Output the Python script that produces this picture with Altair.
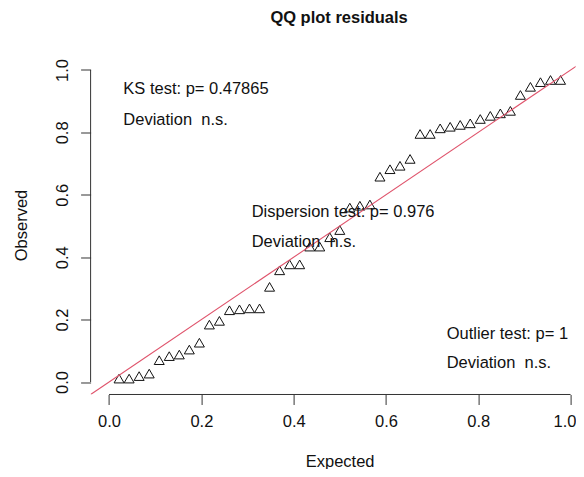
import altair as alt
import pandas as pd

# Expected uniform quantiles (i/(n+1), n = 45) and observed scaled residuals
expected = [0.0217, 0.0435, 0.0652, 0.0870, 0.1087, 0.1304, 0.1522, 0.1739, 0.1957,
            0.2174, 0.2391, 0.2609, 0.2826, 0.3043, 0.3261, 0.3478, 0.3696, 0.3913,
            0.4130, 0.4348, 0.4565, 0.4783, 0.5000, 0.5217, 0.5435, 0.5652, 0.5870,
            0.6087, 0.6304, 0.6522, 0.6739, 0.6957, 0.7174, 0.7391, 0.7609, 0.7826,
            0.8043, 0.8261, 0.8478, 0.8696, 0.8913, 0.9130, 0.9348, 0.9565, 0.9783]
observed = [0.011, 0.011, 0.019, 0.027, 0.070, 0.083, 0.088, 0.104, 0.126,
            0.184, 0.196, 0.230, 0.233, 0.236, 0.236, 0.305, 0.358, 0.377,
            0.377, 0.434, 0.434, 0.464, 0.487, 0.559, 0.565, 0.569, 0.658,
            0.682, 0.693, 0.715, 0.795, 0.795, 0.813, 0.818, 0.824, 0.829,
            0.843, 0.853, 0.861, 0.869, 0.920, 0.946, 0.961, 0.968, 0.968]

tick_values = [0.0, 0.2, 0.4, 0.6, 0.8, 1.0]
ref_line = [-0.04, 1.04]
axis_span = [0.0, 1.0]

NB = "\u00a0"
ann_text = ["KS test: p= 0.47865", "Deviation" + NB + " n.s.",
            "Dispersion test: p= 0.976", "Deviation" + NB + " n.s.",
            "Outlier test: p= 1", "Deviation" + NB + " n.s."]
ann_x = [0.031, 0.031, 0.309, 0.309, 0.7315, 0.7315]
ann_y = [0.938, 0.840, 0.545, 0.449, 0.155, 0.060]

FONT = "Liberation Sans"
FS = 16.5
W, H = 485, 337

pts = pd.DataFrame({"expected": expected, "observed": observed})
line_df = pd.DataFrame({"x": ref_line, "y": ref_line})
span_df = pd.DataFrame({"lo": [axis_span[0]], "hi": [axis_span[1]]})
ann_df = pd.DataFrame({"x": ann_x, "y": ann_y, "t": ann_text})

xs = alt.Scale(domain=[-0.04, 1.0109], nice=False, zero=False)
ys = alt.Scale(domain=[-0.04, 1.04], nice=False, zero=False)

x_axis = alt.Axis(values=tick_values, format=".1f", domain=False, grid=False,
                  tickSize=10, tickColor="#333333", tickWidth=1,
                  labelFont=FONT, labelFontSize=FS, labelColor="#111111",
                  labelPadding=9, labelFlush=False, labelOverlap=False,
                  labelOffset={"condition": {"test": "datum.value == 1", "value": -6},
                               "value": 0},
                  title="Expected", titleFont=FONT, titleFontSize=FS,
                  titleFontWeight="normal", titleColor="#111111",
                  titleX=249, titleY=67, titleAlign="center", titleBaseline="middle")
y_axis = alt.Axis(values=tick_values, format=".1f", domain=False, grid=False,
                  tickSize=10, tickColor="#333333", tickWidth=1,
                  labelFont=FONT, labelFontSize=FS, labelColor="#111111",
                  labelAngle=270, labelAlign="center", labelBaseline="middle",
                  labelPadding=18, labelFlush=False, labelOverlap=False,
                  title="Observed", titleFont=FONT, titleFontSize=FS,
                  titleFontWeight="normal", titleColor="#111111",
                  titleX=-69, titleY=167.5, titleAngle=270,
                  titleAlign="center", titleBaseline="middle")

xaxis_line = alt.Chart(span_df).mark_rule(color="#333333", strokeWidth=1).encode(
    x=alt.X("lo:Q", scale=xs, axis=x_axis), x2="hi:Q", y=alt.value(H))
yaxis_line = alt.Chart(span_df).mark_rule(color="#333333", strokeWidth=1).encode(
    y=alt.Y("lo:Q", scale=ys, axis=y_axis), y2="hi:Q", x=alt.value(0))

points = alt.Chart(pts).mark_point(shape="triangle-up", filled=False, size=100,
                                   color="#111111", strokeWidth=1, opacity=1).encode(
    x=alt.X("expected:Q", scale=xs, axis=x_axis),
    y=alt.Y("observed:Q", scale=ys, axis=y_axis))

ref = alt.Chart(line_df).mark_line(color="#DF536B", strokeWidth=1.1, clip=True).encode(
    x=alt.X("x:Q", scale=xs, axis=x_axis), y=alt.Y("y:Q", scale=ys, axis=y_axis))

ann = alt.Chart(ann_df).mark_text(align="left", baseline="middle", font=FONT,
                                  fontSize=FS, color="#111111").encode(
    x=alt.X("x:Q", scale=xs, axis=x_axis), y=alt.Y("y:Q", scale=ys, axis=y_axis),
    text="t:N")

chart = alt.layer(xaxis_line, yaxis_line, points, ref, ann).properties(
    width=W, height=H,
    title=alt.TitleParams("QQ plot residuals", font=FONT, fontSize=FS,
                          fontWeight="bold", color="#111111", anchor="middle",
                          dx=6, baseline="alphabetic", offset=17.6),
    autosize=alt.AutoSizeParams(type="none"),
    padding={"left": 82.6, "top": 49.5, "right": 0, "bottom": 74},
).configure_view(strokeWidth=0)

chart.save("out.html", embed_options={"renderer": "svg", "actions": False})
